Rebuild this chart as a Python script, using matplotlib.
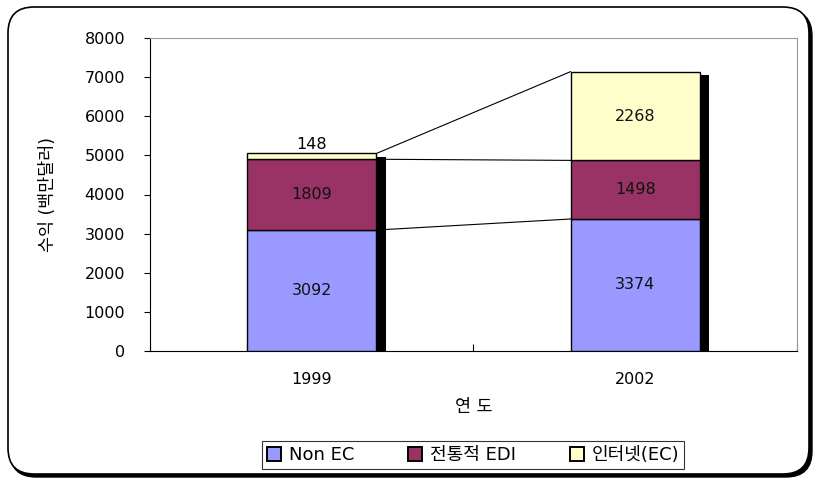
import matplotlib
matplotlib.use("Agg")
import matplotlib.pyplot as plt
from matplotlib.patches import FancyBboxPatch, Rectangle
import numpy as np

plt.rcParams['font.family'] = ['DejaVu Sans', 'Noto Sans CJK KR']

years = ["1999", "2002"]
series_names = ["Non EC", "전통적 EDI", "인터넷(EC)"]
non_ec = [3092, 3374]
edi = [1809, 1498]
internet = [148, 2268]
colors = ["#9999FF", "#993366", "#FFFFCC"]
y_ticks = [0, 1000, 2000, 3000, 4000, 5000, 6000, 7000, 8000]

W, H = 815, 480
fig = plt.figure(figsize=(W / 100, H / 100), dpi=100)

# rounded outer frame with shadow
bg = fig.add_axes([0, 0, 1, 1], zorder=-10)
bg.set_xlim(0, W)
bg.set_ylim(H, 0)
bg.axis("off")
shadow = FancyBboxPatch((10, 10), 802, 467, boxstyle="round,pad=0,rounding_size=26",
                        facecolor="black", edgecolor="black", lw=1)
bg.add_patch(shadow)
frame = FancyBboxPatch((8, 7), 801, 467, boxstyle="round,pad=0,rounding_size=26",
                       facecolor="white", edgecolor="black", lw=1.2)
bg.add_patch(frame)

ax = fig.add_axes([150 / W, 1 - 351 / H, (797 - 150) / W, (351 - 38) / H])
x = np.array([0.5, 1.5])
w = 0.4
series = [non_ec, edi, internet]

bottoms = np.zeros(2)
tops_all = []
for vals, c in zip(series, colors):
    vals = np.array(vals, dtype=float)
    ax.bar(x, vals, w, bottom=bottoms, color=c, edgecolor="black", linewidth=1.0, zorder=3)
    bottoms = bottoms + vals
    tops_all.append(bottoms.copy())

# bar shadows
dx = 0.028
dy = 90
for xi, tot in zip(x, bottoms):
    ax.add_patch(Rectangle((xi - w / 2 + dx, 0), w, tot - dy, facecolor="black",
                           edgecolor="none", zorder=2))

# connecting series lines
for tops in tops_all:
    ax.plot([x[0] + w / 2, x[1] - w / 2], [tops[0], tops[1]], color="black", lw=0.8, zorder=2)

# data labels
for i in range(2):
    b = 0
    for j, vals in enumerate(series):
        v = vals[i]
        if v < 400:
            ax.text(x[i], b + v + 50, f"{v}", ha="center", va="bottom", fontsize=11.5, color="black")
        else:
            ax.text(x[i], b + v / 2, f"{v}", ha="center", va="center", fontsize=11.5, color="#111111")
        b += v

ax.set_xlim(0, 2)
ax.set_ylim(0, 8000)
ax.set_yticks(y_ticks)
ax.set_yticklabels([str(t) for t in y_ticks], fontsize=11.5)
ax.tick_params(axis="y", direction="out", length=4, pad=14)
ax.set_xticks([0, 1, 2])
ax.set_xticklabels(["", "", ""])
ax.set_xticks(x, minor=True)
ax.set_xticklabels(years, minor=True, fontsize=11.5)
ax.tick_params(axis="x", which="major", direction="in", length=5)
ax.tick_params(axis="x", which="minor", length=0, pad=15)

for s in ["top", "right"]:
    ax.spines[s].set_color("#999999")
for s in ["left", "bottom"]:
    ax.spines[s].set_color("black")

ax.set_xlabel("연 도", fontsize=12.5, labelpad=8)
ax.set_ylabel("수익 (백만달러)", fontsize=12.5, labelpad=20)

handles = [Rectangle((0, 0), 1, 1, facecolor=c, edgecolor="black", lw=1.4) for c in colors]
leg = fig.legend(handles, series_names, loc="center", bbox_to_anchor=(473 / W, 1 - 455 / H),
                 ncol=3, fontsize=13, frameon=True, fancybox=False, edgecolor="black",
                 handlelength=0.8, handleheight=0.8, handletextpad=0.4, columnspacing=3.0,
                 borderpad=0.25, borderaxespad=0)
leg.get_frame().set_linewidth(0.8)

fig.savefig("out.png", dpi=100)
